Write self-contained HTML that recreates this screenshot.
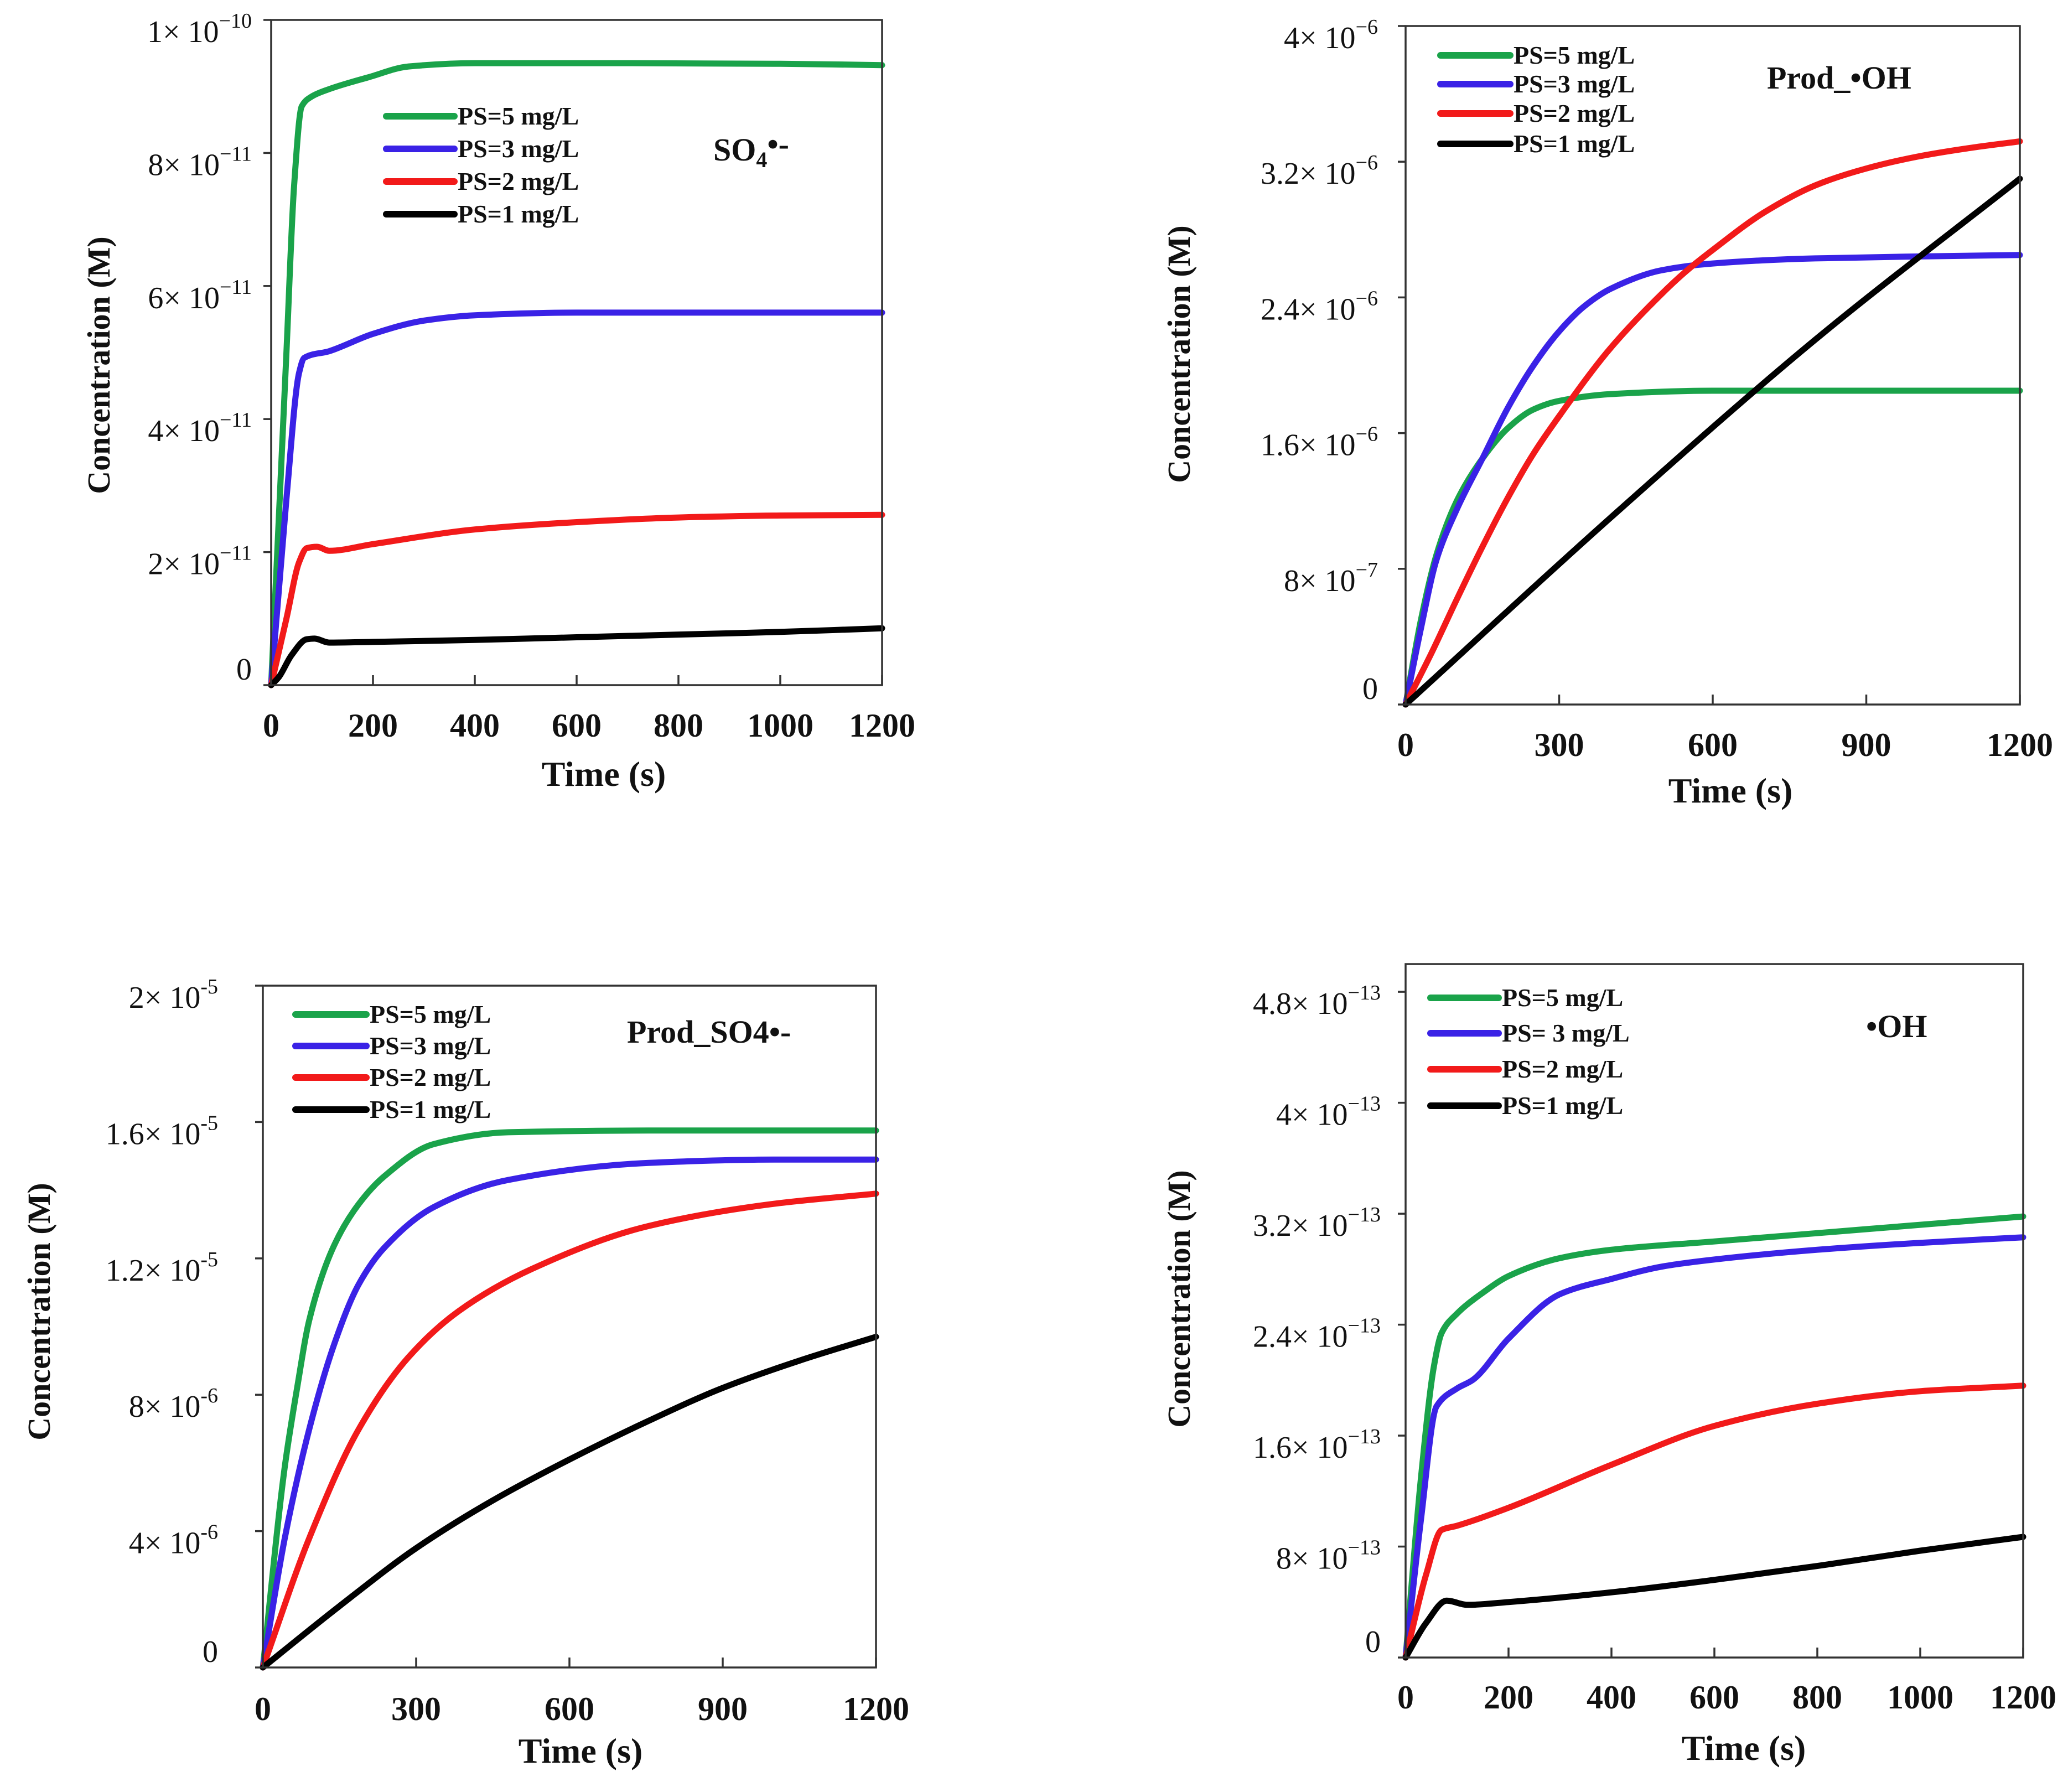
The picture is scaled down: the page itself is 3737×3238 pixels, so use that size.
<!DOCTYPE html>
<html><head><meta charset="utf-8"><style>
html,body{margin:0;padding:0;background:#fff;}
svg{display:block;}
text{font-family:"Liberation Serif",serif;fill:#111;}
</style></head><body>
<svg id="fig" width="3737" height="3238" viewBox="0 0 3737 3238"></svg>
<script>
// ---- shared data ----
const seriesLabels = ["PS=5 mg/L","PS=3 mg/L","PS=2 mg/L","PS=1 mg/L"];
const seriesColors = ["#1aa34a","#3a22e6","#f21a1a","#000000"];

// Panel A: SO4•- (units 1e-11)
const aT5=[0,15,30,45,60,80,114,192,270,400,700,1000,1200];
const aV5=[0,2.5,5,7.5,8.7,8.85,8.96,9.14,9.3,9.35,9.35,9.34,9.32];
const aT3=[0,30,55,65,114,200,300,400,600,900,1200];
const aV3=[0,2.8,4.7,4.92,5.02,5.28,5.48,5.56,5.6,5.6,5.6];
const aT2=[0,30,55,70,90,114,200,400,600,800,1000,1200];
const aV2=[0,1.0,1.85,2.06,2.08,2.02,2.12,2.34,2.45,2.52,2.55,2.56];
const aT1=[0,15,40,70,85,114,200,400,600,800,1000,1200];
const aV1=[0,0.12,0.45,0.69,0.7,0.64,0.65,0.68,0.72,0.76,0.8,0.855];
const aTicksY=[0,2,4,6,8,10];
const aTickLabY=[["0",""],["2\u00d7 10","\u221211"],["4\u00d7 10","\u221211"],["6\u00d7 10","\u221211"],["8\u00d7 10","\u221211"],["1\u00d7 10","\u221210"]];
const aTicksX=[0,200,400,600,800,1000,1200];

// Panel B: Prod_•OH (units 1e-6)
const bT5=[0,30,60,100,150,200,250,300,400,600,1200];
const bV5=[0,0.5,0.88,1.2,1.45,1.63,1.74,1.79,1.83,1.85,1.85];
const bT3=[0,30,60,100,150,200,250,300,350,400,500,600,800,1200];
const bV3=[0,0.45,0.85,1.15,1.45,1.75,2.0,2.2,2.35,2.45,2.56,2.6,2.63,2.65];
const bT2=[0,50,100,150,200,250,300,400,500,550,600,700,800,900,1000,1100,1200];
const bV2=[0,0.3,0.62,0.93,1.22,1.48,1.7,2.1,2.42,2.56,2.68,2.9,3.06,3.16,3.23,3.28,3.32];
const bT1=[0,400,800,1200];
const bV1=[0,1.1,2.15,3.1];
const bTicksY=[0,0.8,1.6,2.4,3.2,4];
const bTickLabY=[["0",""],["8\u00d7 10","\u22127"],["1.6\u00d7 10","\u22126"],["2.4\u00d7 10","\u22126"],["3.2\u00d7 10","\u22126"],["4\u00d7 10","\u22126"]];
const bTicksX=[0,300,600,900,1200];

// Panel C: Prod_SO4•- (units 1e-6)
const cT5=[0,43,67,91,140,188,237,334,480,755,1200];
const cV5=[0,5.9,8.2,10.2,12.4,13.6,14.4,15.35,15.7,15.75,15.75];
const cT3=[0,43,91,140,188,237,334,480,755,1000,1200];
const cV3=[0,3.8,7.0,9.5,11.25,12.3,13.5,14.3,14.8,14.9,14.9];
const cT2=[0,91,188,285,383,528,755,1000,1200];
const cV2=[0,3.8,7.0,9.1,10.45,11.7,12.95,13.6,13.9];
const cT1=[0,150,300,450,600,750,900,1050,1200];
const cV1=[0,1.8,3.5,4.9,6.1,7.2,8.2,9.0,9.7];
const cTicksY=[0,4,8,12,16,20];
const cTickLabY=[["0",""],["4\u00d7 10","-6"],["8\u00d7 10","-6"],["1.2\u00d7 10","-5"],["1.6\u00d7 10","-5"],["2\u00d7 10","-5"]];
const cTicksX=[0,300,600,900,1200];

// Panel D: •OH
const dT5=[0,30,55,70,100,150,200,300,400,600,800,1000,1200];
const dV5=[0,1.3,2.1,2.34,2.48,2.63,2.75,2.88,2.94,3.0,3.06,3.12,3.18];
const dT3=[0,30,60,100,130,200,300,400,500,600,800,1000,1200];
const dV3=[0,1.0,1.81,1.94,2.0,2.3,2.62,2.73,2.82,2.87,2.94,2.99,3.03];
const dT2=[0,40,70,100,200,400,600,800,1000,1200];
const dV2=[0,0.6,0.92,0.95,1.08,1.39,1.67,1.83,1.92,1.96];
const dT1=[0,40,80,120,200,400,600,800,1000,1200];
const dV1=[0,0.25,0.41,0.38,0.4,0.47,0.56,0.66,0.77,0.87];
const dTicksY=[0,0.8,1.6,2.4,3.2,4,4.8];
const dTickLabY=[["0",""],["8\u00d7 10","\u221213"],["1.6\u00d7 10","\u221213"],["2.4\u00d7 10","\u221213"],["3.2\u00d7 10","\u221213"],["4\u00d7 10","\u221213"],["4.8\u00d7 10","\u221213"]];
const dTicksX=[0,200,400,600,800,1000,1200];

const NS="http://www.w3.org/2000/svg";
const svg=document.getElementById('fig');
function mk(tag,attrs,parent){const e=document.createElementNS(NS,tag);for(const k in attrs)e.setAttribute(k,attrs[k]);(parent||svg).appendChild(e);return e;}
// monotone cubic (Fritsch-Carlson) in screen coords
function smoothPath(pts){
  const n=pts.length;
  const dx=[],m=[];
  for(let i=0;i<n-1;i++){dx.push(pts[i+1][0]-pts[i][0]);m.push((pts[i+1][1]-pts[i][1])/dx[i]);}
  const tg=new Array(n);
  tg[0]=m[0];tg[n-1]=m[n-2];
  for(let i=1;i<n-1;i++){
    if(m[i-1]*m[i]<=0)tg[i]=0;
    else{const w1=2*dx[i]+dx[i-1],w2=dx[i]+2*dx[i-1];tg[i]=(w1+w2)/(w1/m[i-1]+w2/m[i]);}
  }
  let d="M"+pts[0][0].toFixed(1)+","+pts[0][1].toFixed(1);
  for(let i=0;i<n-1;i++){
    const h=dx[i]/3;
    d+=" C"+(pts[i][0]+h).toFixed(1)+","+(pts[i][1]+tg[i]*h).toFixed(1)+" "+(pts[i+1][0]-h).toFixed(1)+","+(pts[i+1][1]-tg[i+1]*h).toFixed(1)+" "+pts[i+1][0].toFixed(1)+","+pts[i+1][1].toFixed(1);
  }
  return d;
}

function panel(cfg){
  const g=mk('g',{});
  
  
  const {L,R,T,B,ymax}=cfg;
  const sx=t=>L+(t/1200)*(R-L);
  const sy=v=>B-(v/ymax)*(B-T);
  cfg.series.forEach((s,i)=>{
    const pts=s[0].map((t,j)=>[sx(t),sy(s[1][j])]);
    const p=mk('path',{d:smoothPath(pts),fill:'none',stroke:seriesColors[i],'stroke-width':11,'stroke-linejoin':'round','stroke-linecap':'round'},g);
    
    
  });
  const fr=mk('rect',{x:L,y:T,width:R-L,height:B-T,fill:'none',stroke:'#333','stroke-width':3.5},g);
  
  
  cfg.ticksX.forEach(t=>{
    mk('line',{x1:sx(t),x2:sx(t),y1:B,y2:B-18,stroke:'#333','stroke-width':3.5},g);
    const tx=mk('text',{x:sx(t),y:cfg.xLabY,'font-size':60,'font-weight':'bold','text-anchor':'middle'},g);
    tx.textContent=t;
    
    
  });
  cfg.ticksY.forEach((v,i)=>{
    mk('line',{x1:L-14,x2:L,y1:sy(v),y2:sy(v),stroke:'#333','stroke-width':3.5},g);
    const lab=cfg.tickLab[i];
    const tx=mk('text',{x:cfg.yLabX,y:sy(v)+(lab[1]?40:-10),'font-size':56,'text-anchor':'end'},g);
    
    
    if(lab[1]){
      const a=mk('tspan',{},tx);a.textContent=lab[0];
      const b=mk('tspan',{dy:-26,'font-size':38},tx);b.textContent=lab[1];
    } else tx.textContent=lab[0];
  });
  const yt=mk('text',{x:0,y:0,'font-size':58,'font-weight':'bold','text-anchor':'middle',transform:`translate(${cfg.yTitle[0]},${cfg.yTitle[1]}) rotate(-90)`},g);
  yt.textContent='Concentration (M)';
  
  
  const xt=mk('text',{x:cfg.xTitle[0],y:cfg.xTitle[1],'font-size':64,'font-weight':'bold','text-anchor':'middle'},g);
  xt.textContent='Time (s)';
  
  
  const lg=mk('g',{},g);
  
  
  cfg.legRows.forEach((y,i)=>{
    mk('line',{x1:cfg.legX[0],x2:cfg.legX[1],y1:y,y2:y,stroke:seriesColors[i],'stroke-width':12,'stroke-linecap':'round'},lg);
    const tx=mk('text',{x:cfg.legX[1]+6,y:y+15,'font-size':46,'font-weight':'bold'},lg);
    tx.textContent=cfg.legLabels?cfg.legLabels[i]:seriesLabels[i];
    
    
  });
  const an=mk('text',{x:cfg.ann[0],y:cfg.ann[1],'font-size':58,'font-weight':'bold'},g);
  
  
  cfg.annParts.forEach(p=>{const s=mk('tspan',p[1]||{},an);s.textContent=p[0];});
}

panel({name:'panel-so4-radical',L:490,R:1594,T:36,B:1238,ymax:10,
  series:[[aT5,aV5],[aT3,aV3],[aT2,aV2],[aT1,aV1]],ticksX:aTicksX,ticksY:aTicksY,tickLab:aTickLabY,
  xLabY:1331,yLabX:455,yTitle:[198,660],xTitle:[1091,1420],
  legX:[698,821],legRows:[210,269,328,387],ann:[1289,290],
  annParts:[["SO"],["4",{dy:12,'font-size':40}],["\u2022-",{dy:-22}]]});

panel({name:'panel-prod-oh',L:2540,R:3650,T:47,B:1273,ymax:4,
  series:[[bT5,bV5],[bT3,bV3],[bT2,bV2],[bT1,bV1]],ticksX:bTicksX,ticksY:bTicksY,tickLab:bTickLabY,
  xLabY:1366,yLabX:2490,yTitle:[2150,640],xTitle:[3127,1450],
  legX:[2603,2729],legRows:[100,152,205,260],ann:[3193,160],
  annParts:[["Prod_\u2022OH"]]});

panel({name:'panel-prod-so4',L:475,R:1583,T:1781,B:3013,ymax:20,
  series:[[cT5,cV5],[cT3,cV3],[cT2,cV2],[cT1,cV1]],ticksX:cTicksX,ticksY:cTicksY,tickLab:cTickLabY,
  xLabY:3108,yLabX:394,yTitle:[90,2370],xTitle:[1049,3185],
  legX:[534,662],legRows:[1833,1890,1947,2005],ann:[1133,1884],
  annParts:[["Prod_SO4\u2022-"]]});

panel({name:'panel-oh-radical',L:2540,R:3656,T:1742,B:2995,ymax:5.0,
  series:[[dT5,dV5],[dT3,dV3],[dT2,dV2],[dT1,dV1]],ticksX:dTicksX,ticksY:dTicksY,tickLab:dTickLabY,
  xLabY:3087,yLabX:2495,yTitle:[2150,2347],xTitle:[3151,3180],
  legX:[2585,2708],legRows:[1803,1867,1932,1998],legLabels:["PS=5 mg/L","PS= 3 mg/L","PS=2 mg/L","PS=1 mg/L"],ann:[3372,1874],
  annParts:[["\u2022OH"]]});
</script>
</body></html>
